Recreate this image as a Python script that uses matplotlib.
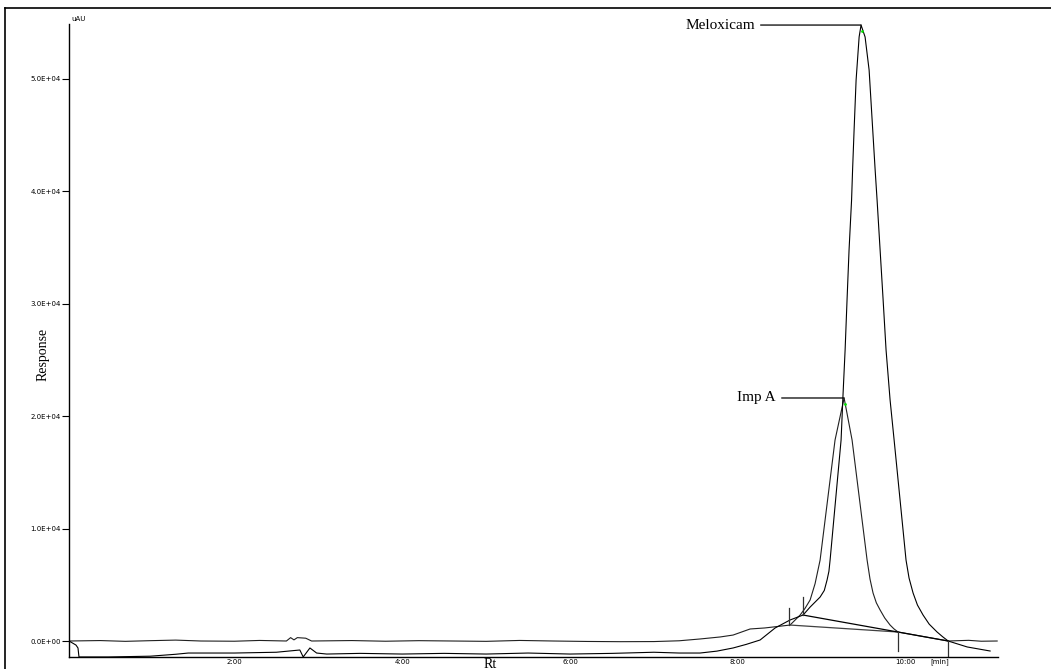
"""Overlay of two HPLC chromatograms (Imp A and Meloxicam) with integration baselines."""

import matplotlib

matplotlib.use("Agg")
import matplotlib.pyplot as plt


# Imp A chromatogram (baseline at zero)
imp_t = [0.03, 0.4, 0.7, 1.0, 1.3, 1.6, 2.0, 2.3, 2.62, 2.67, 2.71, 2.75, 2.85, 2.92,
         3.4, 3.8, 4.2, 4.6, 5.0, 5.4, 5.8, 6.2, 6.6, 7.0, 7.3, 7.549, 7.79, 7.943,
         8.146, 8.32, 8.622, 8.742, 8.80, 8.861, 8.92, 8.980, 9.158, 9.266, 9.361,
         9.540, 9.575, 9.611, 9.65, 9.695, 9.75, 9.814, 9.86, 9.909, 10.17, 10.506,
         10.75, 10.9, 11.09]
imp_v = [0, 40, -30, 30, 80, 0, -20, 50, 0, 300, 100, 300, 250, 0,
         40, -20, 30, 0, -30, 50, 0, -40, -60, -50, 20, 180, 360, 530,
         1070, 1160, 1420, 2310, 2900, 3650, 5100, 7200, 17880, 21620, 17880,
         7200, 5500, 4270, 3400, 2760, 2050, 1420, 1080, 800, 450, 0,
         60, -20, 0]

# Meloxicam chromatogram (baseline slightly below zero)
mel_t = [0.03, 0.112, 0.136, 0.148, 0.5, 1.0, 1.3, 1.45, 2.0, 2.5, 2.78, 2.82, 2.90,
         2.98, 3.1, 3.5, 4.0, 4.5, 5.0, 5.5, 6.0, 6.5, 7.0, 7.3, 7.549, 7.75, 7.943,
         8.10, 8.265, 8.444, 8.622, 8.777, 8.861, 8.980, 9.03, 9.063, 9.085, 9.099,
         9.230, 9.254, 9.278, 9.301, 9.325, 9.343, 9.355, 9.367, 9.385, 9.409, 9.445,
         9.468, 9.516, 9.564, 9.600, 9.636, 9.659, 9.695, 9.731, 9.766, 9.814, 9.862,
         10.004, 10.04, 10.088, 10.14, 10.207, 10.28, 10.374, 10.44, 10.506, 10.733,
         11.006]
mel_v = [0, -360, -620, -1420, -1420, -1350, -1180, -1070, -1070, -1000, -800, -1420,
         -620, -1070, -1160, -1100, -1160, -1100, -1160, -1070, -1160, -1100, -1000,
         -1070, -1070, -900, -620, -300, 90, 1160, 1870, 2310, 3020, 3910, 4500, 5430,
         6200, 7200, 17880, 22060, 25890, 30340, 34790, 37460, 39230, 41900, 45460,
         49910, 53740, 54800, 53740, 50800, 46350, 41900, 39230, 34790, 30340, 25890,
         21440, 17880, 7200, 5600, 4270, 3200, 2310, 1500, 800, 380, 0, -530, -890]

# integration baselines: (start t, start v, end t, end v)
imp_base = (8.622, 1420, 9.909, 800)
mel_base = (8.777, 2310, 10.506, 0)

# peak start/end markers: (t, v from, v to)
markers = [(8.610, 1420, 2940), (9.909, 800, -890), (8.777, 2310, 3910), (10.506, 0, -1420)]

peak_names = ["Imp A", "Meloxicam"]
peak_t = [9.266, 9.468]
peak_v = [21620, 54800]

y_ticks = [0, 10000, 20000, 30000, 40000, 50000]
x_ticks = [2, 4, 6, 8, 10]
x_labels = ["2:00", "4:00", "6:00", "8:00", "10:00"]


def main() -> None:
    fig = plt.figure(figsize=(10.51, 6.69), dpi=100)
    ax = fig.add_axes([69 / 1051, 12 / 669, (998 - 69) / 1051, (657 - 24) / 669])

    ax.plot(imp_t, imp_v, color="#202020", lw=0.8)
    ax.plot(mel_t, mel_v, color="black", lw=0.8)
    ax.plot([imp_base[0], imp_base[2]], [imp_base[1], imp_base[3]], color="#404040", lw=0.9)
    ax.plot([mel_base[0], mel_base[2]], [mel_base[1], mel_base[3]], color="black", lw=0.9)
    for t, v0, v1 in markers:
        ax.plot([t, t], [v0, v1], color="#303030", lw=0.9)

    offsets = [-68, -106]
    for name, t, v, off in zip(peak_names, peak_t, peak_v, offsets):
        ax.annotate(name, xy=(t, v), xytext=(off, 0), textcoords="offset pixels",
                    ha="right", va="center", fontsize=11, family="Liberation Serif",
                    arrowprops=dict(arrowstyle="-", color="black", lw=0.9, shrinkA=2, shrinkB=0))
        ax.plot([t + 0.01], [v - 500], marker="o", ms=2, color="#00e000", mec="none")

    ax.set_xlim(0.029, 11.10)
    ax.set_ylim(-1423, 54893)
    for side in ("top", "right"):
        ax.spines[side].set_visible(False)
    ax.spines["left"].set_linewidth(1.0)
    ax.spines["bottom"].set_linewidth(1.0)

    ax.set_yticks(y_ticks)
    ax.set_yticklabels([f"{v:.1E}" for v in y_ticks])
    ax.tick_params(axis="y", direction="out", length=5, width=0.8, pad=1, labelsize=5)
    ax.set_xticks(x_ticks)
    ax.set_xticklabels(x_labels)
    ax.tick_params(axis="x", length=0, pad=1.5, labelsize=5)

    fig.text(71 / 1051, 1 - 19 / 669, "uAU", fontsize=5, ha="left", va="center")
    fig.text(43 / 1051, 1 - 354 / 669, "Response", rotation=90, fontsize=10,
             family="Liberation Serif", ha="center", va="center")
    fig.text(490 / 1051, 1 - 668 / 669, "Rt", fontsize=10, family="Liberation Serif",
             ha="center", va="baseline")
    fig.text(940 / 1051, 1 - 662 / 669, "[min]", fontsize=5, ha="center", va="center")

    # outer frame of the report page
    fig.add_artist(plt.Line2D([5 / 1051, 5 / 1051], [0, 1 - 8 / 669], color="black", lw=1.2))
    fig.add_artist(plt.Line2D([5 / 1051, 1], [1 - 8 / 669, 1 - 8 / 669], color="black", lw=1.2))

    fig.savefig("out.png", dpi=100)
    plt.close(fig)


if __name__ == "__main__":
    main()
